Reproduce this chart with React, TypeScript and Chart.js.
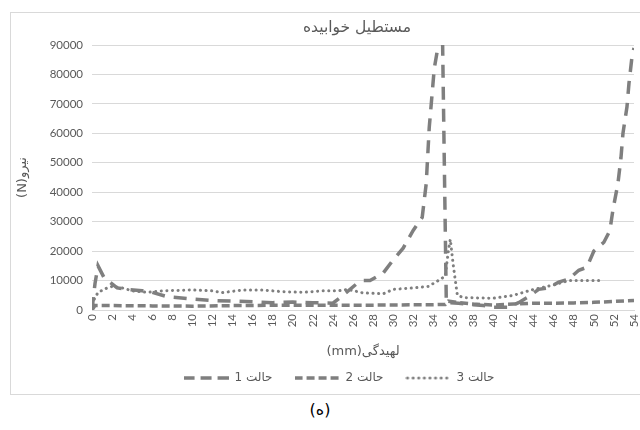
import React, { useEffect, useRef } from "react";
import { Chart, registerables } from "chart.js";

Chart.register(...registerables);

const chartTitle = "مستطیل خوابیده";
const xTitle = "(mm)لهیدگی";
const yTitle = "(N)نیرو";
const caption = "(ه)";
const seriesNames = ["حالت 1", "حالت 2", "حالت 3"];

const s1x = [0, 0.3, 0.6, 1.2, 2.5, 3.5, 5, 6, 7.5, 10, 12, 14, 16, 18, 20, 22, 24, 25, 26.4, 27, 27.7, 29, 30, 31, 32, 32.9, 33.3, 33.6, 34.1, 34.9, 35.3, 36.5, 38, 39, 40, 41.5, 42.5, 43.5, 44.5, 45.5, 46.5, 47.5, 48.5, 49.3, 50, 51, 51.6, 51.9, 52.4, 52.7, 52.9, 53.3, 53.5, 53.8, 54];
const s1y = [0, 9000, 15000, 11000, 7500, 7000, 6500, 6000, 4500, 3700, 3200, 3000, 2800, 2500, 2700, 2500, 2300, 5000, 9000, 10000, 10000, 12500, 17000, 21000, 27000, 31500, 43000, 62000, 82000, 98000, 2500, 2300, 1800, 1500, 900, 900, 2500, 4500, 7000, 7500, 9500, 10500, 13500, 14500, 20000, 23000, 27000, 34000, 43000, 51600, 60000, 69000, 77000, 86000, 89000];

const s2x = [0, 0.3, 2, 6, 10, 14, 18, 22, 26, 30, 34, 35.2, 35.5, 36.5, 38, 40, 42, 44, 46, 48, 50, 52, 54];
const s2y = [0, 1500, 1500, 1400, 1300, 1500, 1600, 1600, 1600, 1700, 1800, 1900, 3000, 2500, 2000, 1700, 2000, 2300, 2300, 2400, 2600, 2900, 3200];

const s3x = [0, 0.2, 0.6, 1.5, 2, 3, 4, 5.5, 7, 10, 12, 13, 15, 17, 19, 21, 23, 24.5, 25.5, 27, 29, 30, 32, 33.5, 34.5, 35.2, 35.5, 35.7, 36, 36.4, 37, 40, 42, 44, 46, 47.5, 49, 51];
const s3y = [0, 3500, 6000, 7500, 8000, 7500, 6500, 6000, 6500, 6800, 6500, 5900, 6800, 6800, 6200, 6000, 6500, 6500, 7000, 5800, 5500, 7000, 7500, 8000, 10000, 11500, 20000, 24000, 15000, 5000, 4200, 4000, 5000, 7000, 8500, 10000, 10000, 10000];

const xMin = 0;
const xMax = 54;
const xStep = 2;
const yMin = 0;
const yMax = 90000;
const yStep = 10000;

const toPoints = (xs: number[], ys: number[]) => xs.map((x, i) => ({ x, y: ys[i] }));

const LINE = "#7f7f7f";
const TEXT = "#595959";
const GRID = "#d9d9d9";
const NUM_FONT = "Lato, 'Open Sans', 'DejaVu Sans', sans-serif";
const AR_FONT = "'DejaVu Sans', Lato, sans-serif";

const PAD_LEFT = 34;
const CHART_LEFT = 82;
const TITLE_SHIFT = 18;

const dash1 = [13, 9];
const dash2 = [8, 4];
const dash3 = [0.1, 5.5];
const legendDash1 = [11, 6];

function legendSample(dash: number[], width: number, cap: CanvasLineCap) {
  const c = document.createElement("canvas");
  c.width = 45;
  c.height = 8;
  const g = c.getContext("2d");
  if (g) {
    g.strokeStyle = LINE;
    g.lineWidth = width;
    g.lineCap = cap;
    g.setLineDash(dash);
    g.beginPath();
    g.moveTo(cap === "round" ? 2 : 0, 4);
    g.lineTo(cap === "round" ? 43 : 45, 4);
    g.stroke();
  }
  return c;
}

const shiftTitle = {
  id: "shiftTitle",
  afterLayout(chart: any) {
    const t = chart.titleBlock;
    if (t) {
      t.left += TITLE_SHIFT;
      t.right += TITLE_SHIFT;
    }
  },
};

export default function App() {
  const ref = useRef<HTMLCanvasElement | null>(null);

  useEffect(() => {
    if (!ref.current) return;
    const chart = new Chart(ref.current, {
      type: "line",
      plugins: [shiftTitle],
      data: {
        datasets: [
          {
            label: seriesNames[0],
            data: toPoints(s1x, s1y),
            borderColor: LINE,
            backgroundColor: LINE,
            borderWidth: 3.5,
            borderDash: dash1,
            borderCapStyle: "butt",
            pointRadius: 0,
            pointStyle: legendSample(legendDash1, 3.5, "butt"),
            tension: 0,
            fill: false,
          },
          {
            label: seriesNames[1],
            data: toPoints(s2x, s2y),
            borderColor: LINE,
            backgroundColor: LINE,
            borderWidth: 3.5,
            borderDash: dash2,
            borderCapStyle: "butt",
            pointRadius: 0,
            pointStyle: legendSample(dash2, 3.5, "butt"),
            tension: 0,
            fill: false,
          },
          {
            label: seriesNames[2],
            data: toPoints(s3x, s3y),
            borderColor: LINE,
            backgroundColor: LINE,
            borderWidth: 3,
            borderDash: dash3,
            borderCapStyle: "round",
            pointRadius: 0,
            pointStyle: legendSample(dash3, 3, "round"),
            tension: 0,
            fill: false,
          },
        ],
      },
      options: {
        animation: false,
        responsive: false,
        devicePixelRatio: 1,
        layout: { padding: { left: PAD_LEFT, right: 6, top: 0, bottom: 1 } },
        plugins: {
          title: {
            display: true,
            text: chartTitle,
            color: TEXT,
            font: { family: AR_FONT, size: 15.5, weight: "normal" },
            padding: { top: 5.7, bottom: 7.7 },
          },
          legend: {
            display: true,
            position: "bottom",
            labels: {
              usePointStyle: true,
              pointStyleWidth: 45,
              padding: 22,
              color: TEXT,
              font: { family: AR_FONT, size: 12 },
            },
          },
          tooltip: { enabled: false },
        },
        scales: {
          x: {
            type: "linear",
            min: xMin,
            max: xMax,
            grid: { display: false, drawTicks: false },
            border: { display: true, color: GRID, width: 1 },
            ticks: {
              stepSize: xStep,
              autoSkip: false,
              maxRotation: 90,
              minRotation: 90,
              padding: 4,
              color: TEXT,
              font: { family: NUM_FONT, size: 11.5 },
            },
            title: {
              display: true,
              text: xTitle,
              color: TEXT,
              font: { family: AR_FONT, size: 13 },
              padding: { top: 0, bottom: -9.8 },
            },
            afterFit: (s: any) => {
              s.height = 40;
              s.paddingLeft = 0;
              s.paddingRight = 0;
            },
          },
          y: {
            min: yMin,
            max: yMax,
            grid: { color: GRID, drawTicks: false },
            border: { display: false },
            ticks: {
              stepSize: yStep,
              padding: 9,
              color: TEXT,
              font: { family: NUM_FONT, size: 11.5 },
              callback: (v: any) => String(v),
            },
            title: {
              display: true,
              text: yTitle,
              color: TEXT,
              font: { family: AR_FONT, size: 13 },
              padding: { top: 13 - 7.8 - PAD_LEFT, bottom: 0 },
            },
            afterFit: (s: any) => {
              s.width = CHART_LEFT - PAD_LEFT;
              s.paddingTop = 0;
              s.paddingBottom = 0;
            },
          },
        },
      },
    });
    return () => chart.destroy();
  }, []);

  return (
    <div style={{ position: "fixed", left: 0, top: 0, width: 640, height: 430, overflow: "hidden", background: "#fff" }}>
      <div
        style={{
          position: "absolute",
          left: 10,
          top: 12,
          width: 660,
          height: 383,
          border: "1px solid #d9d9d9",
          boxSizing: "border-box",
        }}
      />
      <canvas
        ref={ref}
        width={630}
        height={382}
        style={{ position: "absolute", left: 10, top: 13, width: 630, height: 382 }}
      />
      <div
        style={{
          position: "absolute",
          left: 0,
          top: 400,
          width: 640,
          textAlign: "center",
          fontFamily: "'DejaVu Sans', sans-serif",
          fontSize: 16,
          color: "#000",
        }}
      >
        {caption}
      </div>
    </div>
  );
}
